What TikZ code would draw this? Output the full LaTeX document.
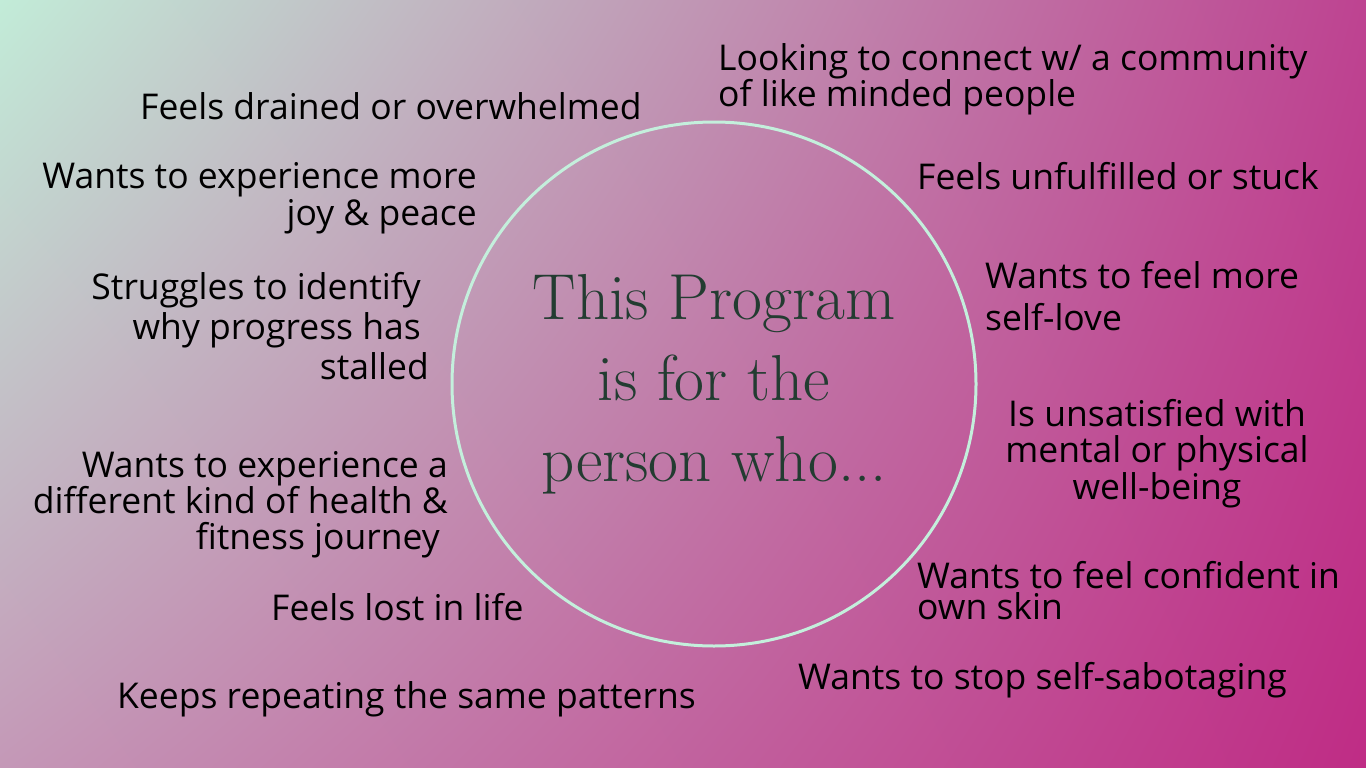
\documentclass[tikz,border=0pt]{standalone}
\usepackage{fontspec}
\usepackage{tikz}
\usetikzlibrary{shadings}
\newfontfamily\itemfont{Open Sans}
\definecolor{mint}{HTML}{C4EFDC}
\definecolor{pinegreen}{HTML}{233C31}
\definecolor{bgtl}{HTML}{C2ECD8}
\definecolor{bgtr}{HTML}{BE4391}
\definecolor{bgbl}{HTML}{C498B7}
\definecolor{bgbr}{HTML}{BF2C85}

\begin{document}
\begin{tikzpicture}[x=1pt,y=-1pt]
  \tikzstyle{every node}=[inner sep=0pt]
  \tikzstyle{item}=[font=\itemfont\fontsize{35.5}{37}\selectfont, text=black]

  % background
  \useasboundingbox (0,0) rectangle (1366,768);
  \shade[upper left=bgtl, upper right=bgtr, lower left=bgbl, lower right=bgbr]
    (0,0) rectangle (1366,768);

  \node[circle, draw=mint, line width=3pt, minimum size=524pt] (ring) at (714,384) {};
  \node[font=\fontsize{65}{81}\selectfont, text=pinegreen, align=center] (title) at (ring.center)
    {This Program\\is for the\\person who...};

  % left side
  \node[item, anchor=north west] (drained) at (140,92) {Feels drained or overwhelmed};
  \node[item, anchor=north east, align=right] (joy) at (477,162)
    {Wants to experience more\\joy \& peace};
  \node[item, anchor=north east, align=right, font=\itemfont\fontsize{35.5}{40}\selectfont] (stalled) at (429,272)
    {Struggles to identify\kern8pt\\why progress has\kern8pt\\stalled};
  \node[item, anchor=north east, align=right, font=\itemfont\fontsize{35.5}{35.5}\selectfont] (journey) at (448,451)
    {Wants to experience a\\different kind of health \&\\fitness journey\kern8pt};
  \node[item, anchor=north west] (lost) at (271,593) {Feels lost in life};
  \node[item, anchor=north west] (patterns) at (117,681) {Keeps repeating the same patterns};

  % right side
  \node[item, anchor=north west, align=left, font=\itemfont\fontsize{35.5}{36}\selectfont] (community) at (718,43)
    {Looking to connect w/ a community\\of like minded people};
  \node[item, anchor=north west] (stuck) at (917,162) {Feels unfulfilled or stuck};
  \node[item, anchor=north west, align=left, font=\itemfont\fontsize{35.5}{42}\selectfont] (selflove) at (985,261)
    {Wants to feel more\\self-love};
  \node[item, anchor=north, align=center, font=\itemfont\fontsize{35.5}{36.5}\selectfont] (wellbeing) at (1157,399)
    {Is unsatisfied with\\mental or physical\\well-being};
  \node[item, anchor=north west, align=left, font=\itemfont\fontsize{35.5}{31}\selectfont] (skin) at (917,561)
    {Wants to feel confident in\\own skin};
  \node[item, anchor=north west] (sabotage) at (798,662) {Wants to stop self-sabotaging};
\end{tikzpicture}
\end{document}
